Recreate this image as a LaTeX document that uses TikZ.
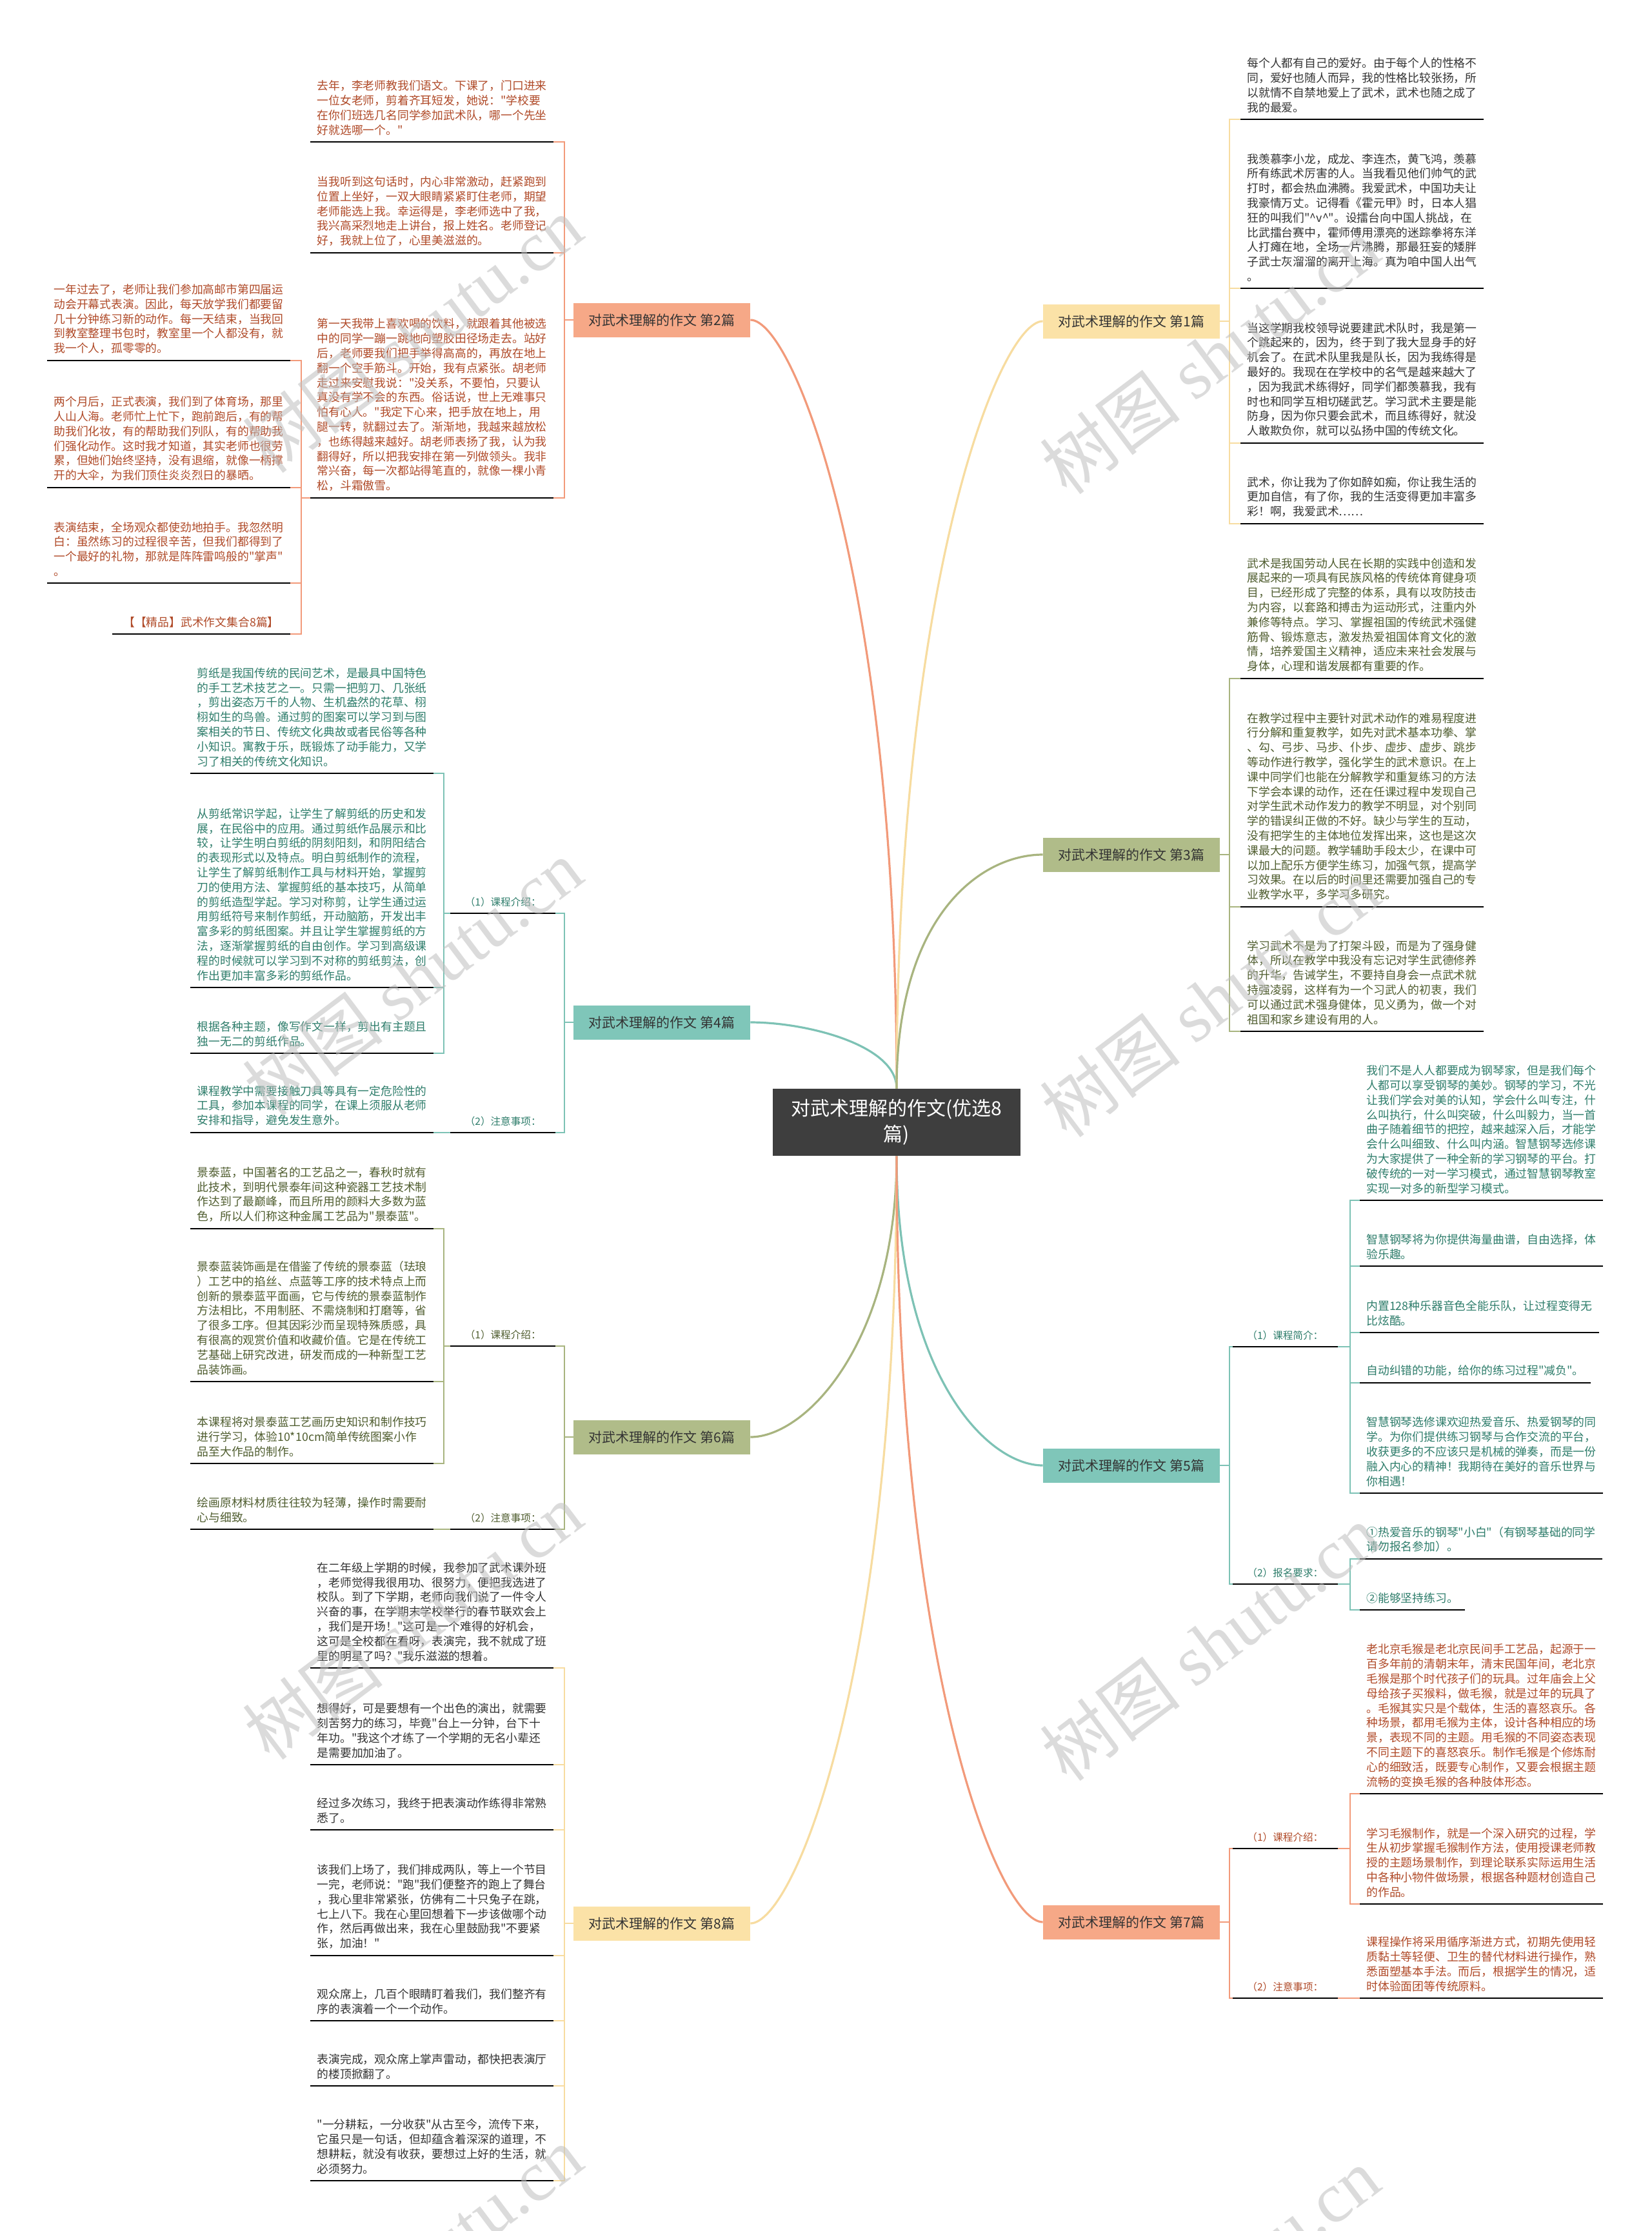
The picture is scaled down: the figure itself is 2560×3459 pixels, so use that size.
\documentclass[tikz,border=0pt]{standalone}
\usepackage{fontspec}
\setmainfont{Noto Sans CJK SC}[Ligatures=TeXOff]
\newfontfamily\wmlatin{Liberation Serif}
\usepackage{xcolor}
\usetikzlibrary{positioning}

\definecolor{salline}{HTML}{F29A7A}
\definecolor{salfill}{HTML}{F6A887}
\definecolor{saltext}{HTML}{B04A28}
\definecolor{tealline}{HTML}{7DC2B5}
\definecolor{tealfill}{HTML}{7FC6B9}
\definecolor{tealtext}{HTML}{2E7D6B}
\definecolor{oliveline}{HTML}{A8B47F}
\definecolor{olivefill}{HTML}{B0BC89}
\definecolor{olivetext}{HTML}{4F5D2F}
\definecolor{yelline}{HTML}{F7DCA0}
\definecolor{yelfill}{HTML}{FBE2A7}
\definecolor{graytext}{HTML}{333333}
\definecolor{ctrfill}{HTML}{3E3E3E}

\begin{document}
\begin{tikzpicture}[x=0.5pt,y=-0.5pt,
    para/.style={align=left,inner xsep=5pt,inner ysep=5pt,text=#1,
      font=\fontsize{8.9pt}{11.4pt}\selectfont},
    tag/.style={inner xsep=11pt,inner ysep=5pt,text=#1,
      font=\fontsize{7.8pt}{9pt}\selectfont},
    bbox/.style={fill=#1,minimum width=137pt,minimum height=26.5pt,inner sep=0pt,
      text=black!80,font=\fontsize{10.5pt}{12pt}\selectfont},
    conn/.style={draw=#1,line width=1.3pt},
    bend/.style={draw=#1,line width=1.6pt},
    uline/.style={draw=black,line width=1.3pt},
    wmark/.style={text=black!25,opacity=0.55,rotate=37,
      font=\fontsize{55pt}{60pt}\selectfont}]
    \useasboundingbox (0,0) rectangle (2560,3459);
    \fill[white] (0,0) rectangle (2560,3459);

    % centre
    \node[fill=ctrfill,text=white,align=center,minimum width=192pt,minimum height=52pt,
      font=\fontsize{15pt}{20pt}\selectfont] (ctr) at (1390,1740)
      {对武术理解的作文(优选8\\篇)};

    % branches
    \node[bbox=salfill] (b2) at (1026,496) {对武术理解的作文 第2篇};
    \node[bbox=tealfill] (b4) at (1026,1585) {对武术理解的作文 第4篇};
    \node[bbox=olivefill] (b6) at (1026,2228) {对武术理解的作文 第6篇};
    \node[bbox=yelfill] (b8) at (1026,2982) {对武术理解的作文 第8篇};
    \node[bbox=yelfill] (b1) at (1754,498) {对武术理解的作文 第1篇};
    \node[bbox=olivefill] (b3) at (1754,1325) {对武术理解的作文 第3篇};
    \node[bbox=tealfill] (b5) at (1754,2272) {对武术理解的作文 第5篇};
    \node[bbox=salfill] (b7) at (1754,2980) {对武术理解的作文 第7篇};

    \draw[bend=salline] (ctr.north) .. controls (1390,900) and (1230,496) .. (b2.east);
    \draw[bend=tealline] (ctr.north) .. controls (1390,1620) and (1250,1585) .. (b4.east);
    \draw[bend=oliveline] (ctr.south) .. controls (1390,2080) and (1250,2228) .. (b6.east);
    \draw[bend=yelline] (ctr.south) .. controls (1390,2600) and (1230,2982) .. (b8.east);
    \draw[bend=yelline] (ctr.north) .. controls (1390,900) and (1550,498) .. (b1.west);
    \draw[bend=oliveline] (ctr.north) .. controls (1390,1420) and (1520,1325) .. (b3.west);
    \draw[bend=tealline] (ctr.south) .. controls (1390,2130) and (1530,2272) .. (b5.west);
    \draw[bend=salline] (ctr.south) .. controls (1390,2600) and (1550,2980) .. (b7.west);

    % branch 2
    \node[para=saltext,anchor=south east] (t2a) at (858,220)
      {去年，李老师教我们语文。下课了，门口进来\\一位女老师，剪着齐耳短发，她说："学校要\\在你们班选几名同学参加武术队，哪一个先坐\\好就选哪一个。"};
    \node[para=saltext,anchor=south east] (t2b) at (858,392)
      {当我听到这句话时，内心非常激动，赶紧跑到\\位置上坐好，一双大眼睛紧紧盯住老师，期望\\老师能选上我。幸运得是，李老师选中了我，\\我兴高采烈地走上讲台，报上姓名。老师登记\\好，我就上位了，心里美滋滋的。};
    \node[para=saltext,anchor=south east] (t2c) at (858,772)
      {第一天我带上喜欢喝的饮料，就跟着其他被选\\中的同学一蹦一跳地向塑胶田径场走去。站好\\后，老师要我们把手举得高高的，再放在地上\\翻一个空手筋斗。开始，我有点紧张。胡老师\\走过来安慰我说："没关系，不要怕，只要认\\真没有学不会的东西。俗话说，世上无难事只\\怕有心人。"我定下心来，把手放在地上，用\\腿一转，就翻过去了。渐渐地，我越来越放松\\，也练得越来越好。胡老师表扬了我，认为我\\翻得好，所以把我安排在第一列做领头。我非\\常兴奋，每一次都站得笔直的，就像一棵小青\\松，斗霜傲雪。};
    \node[para=saltext,anchor=south east] (f1) at (450,559)
      {一年过去了，老师让我们参加高邮市第四届运\\动会开幕式表演。因此，每天放学我们都要留\\几十分钟练习新的动作。每一天结束，当我回\\到教室整理书包时，教室里一个人都没有，就\\我一个人，孤零零的。};
    \node[para=saltext,anchor=south east] (f2) at (450,756)
      {两个月后，正式表演，我们到了体育场，那里\\人山人海。老师忙上忙下，跑前跑后，有的帮\\助我们化妆，有的帮助我们列队，有的帮助我\\们强化动作。这时我才知道，其实老师也很劳\\累，但她们始终坚持，没有退缩，就像一柄撑\\开的大伞，为我们顶住炎炎烈日的暴晒。};
    \node[para=saltext,anchor=south east] (f3) at (450,904)
      {表演结束，全场观众都使劲地拍手。我忽然明\\白：虽然练习的过程很辛苦，但我们都得到了\\一个最好的礼物，那就是阵阵雷鸣般的"掌声"\\。};
    \node[para=saltext,anchor=south east,inner xsep=8.5pt] (f4) at (450,983)
      {【【精品】武术作文集合8篇】};

    \coordinate (h2) at (875,496);
    \coordinate (h2c) at (467,772);
    \draw[conn=salline] (b2.west) -- (h2);
    \foreach \n in {t2a,t2b,t2c}
        \draw[conn=salline] (\n.south east) -| (h2);
    \draw[conn=salline] (t2c.south west) -- (h2c);
    \foreach \n in {f1,f2,f3,f4}
        \draw[conn=salline] (\n.south east) -| (h2c);

    % branch 4
    \node[para=tealtext,anchor=south east] (t4a) at (672,1199)
      {剪纸是我国传统的民间艺术，是最具中国特色\\的手工艺术技艺之一。只需一把剪刀、几张纸\\，剪出姿态万千的人物、生机盎然的花草、栩\\栩如生的鸟兽。通过剪的图案可以学习到与图\\案相关的节日、传统文化典故或者民俗等各种\\小知识。寓教于乐，既锻炼了动手能力，又学\\习了相关的传统文化知识。};
    \node[para=tealtext,anchor=south east] (t4b) at (672,1531)
      {从剪纸常识学起，让学生了解剪纸的历史和发\\展，在民俗中的应用。通过剪纸作品展示和比\\较，让学生明白剪纸的阴刻阳刻，和阴阳结合\\的表现形式以及特点。明白剪纸制作的流程，\\让学生了解剪纸制作工具与材料开始，掌握剪\\刀的使用方法、掌握剪纸的基本技巧，从简单\\的剪纸造型学起。学习对称剪，让学生通过运\\用剪纸符号来制作剪纸，开动脑筋，开发出丰\\富多彩的剪纸图案。并且让学生掌握剪纸的方\\法，逐渐掌握剪纸的自由创作。学习到高级课\\程的时候就可以学习到不对称的剪纸剪法，创\\作出更加丰富多彩的剪纸作品。};
    \node[para=tealtext,anchor=south east] (t4c) at (672,1633)
      {根据各种主题，像写作文一样，剪出有主题且\\独一无二的剪纸作品。};
    \node[para=tealtext,anchor=south east] (t4d) at (672,1756)
      {课程教学中需要接触刀具等具有一定危险性的\\工具，参加本课程的同学，在课上须服从老师\\安排和指导，避免发生意外。};
    \node[tag=tealtext,anchor=south east] (l4a) at (861,1416) {（1）课程介绍：};
    \node[tag=tealtext,anchor=south east] (l4b) at (861,1756) {（2）注意事项：};

    \coordinate (h4) at (875,1585);
    \coordinate (h4a) at (688,1416);
    \draw[conn=tealline] (b4.west) -- (h4);
    \foreach \n in {l4a,l4b}
        \draw[conn=tealline] (\n.south east) -| (h4);
    \draw[conn=tealline] (l4a.south west) -- (h4a);
    \foreach \n in {t4a,t4b,t4c}
        \draw[conn=tealline] (\n.south east) -| (h4a);
    \draw[conn=tealline] (l4b.south west) -- (t4d.south east);

    % branch 6
    \node[para=olivetext,anchor=south east] (t6a) at (672,1905)
      {景泰蓝，中国著名的工艺品之一，春秋时就有\\此技术，到明代景泰年间这种瓷器工艺技术制\\作达到了最巅峰，而且所用的颜料大多数为蓝\\色，所以人们称这种金属工艺品为"景泰蓝"。};
    \node[para=olivetext,anchor=south east] (t6b) at (672,2142)
      {景泰蓝装饰画是在借鉴了传统的景泰蓝（珐琅\\）工艺中的掐丝、点蓝等工序的技术特点上而\\创新的景泰蓝平面画，它与传统的景泰蓝制作\\方法相比，不用制胚、不需烧制和打磨等，省\\了很多工序。但其因彩沙而呈现特殊质感，具\\有很高的观赏价值和收藏价值。它是在传统工\\艺基础上研究改进，研发而成的一种新型工艺\\品装饰画。};
    \node[para=olivetext,anchor=south east] (t6c) at (672,2269)
      {本课程将对景泰蓝工艺画历史知识和制作技巧\\进行学习，体验10*10cm简单传统图案小作\\品至大作品的制作。};
    \node[para=olivetext,anchor=south east] (t6d) at (672,2371)
      {绘画原材料材质往往较为轻薄，操作时需要耐\\心与细致。};
    \node[tag=olivetext,anchor=south east] (l6a) at (861,2087) {（1）课程介绍：};
    \node[tag=olivetext,anchor=south east] (l6b) at (861,2371) {（2）注意事项：};

    \coordinate (h6) at (875,2228);
    \coordinate (h6a) at (688,2087);
    \draw[conn=oliveline] (b6.west) -- (h6);
    \foreach \n in {l6a,l6b}
        \draw[conn=oliveline] (\n.south east) -| (h6);
    \draw[conn=oliveline] (l6a.south west) -- (h6a);
    \foreach \n in {t6a,t6b,t6c}
        \draw[conn=oliveline] (\n.south east) -| (h6a);
    \draw[conn=oliveline] (l6b.south west) -- (t6d.south east);

    % branch 8
    \node[para=graytext,anchor=south east] (t8a) at (858,2586)
      {在二年级上学期的时候，我参加了武术课外班\\，老师觉得我很用功、很努力，便把我选进了\\校队。到了下学期，老师向我们说了一件令人\\兴奋的事，在学期末学校举行的春节联欢会上\\，我们是开场！"这可是一个难得的好机会，\\这可是全校都在看呀，表演完，我不就成了班\\里的明星了吗？"我乐滋滋的想着。};
    \node[para=graytext,anchor=south east] (t8b) at (858,2736)
      {想得好，可是要想有一个出色的演出，就需要\\刻苦努力的练习，毕竟"台上一分钟，台下十\\年功。"我这个才练了一个学期的无名小辈还\\是需要加加油了。};
    \node[para=graytext,anchor=south east] (t8c) at (858,2837)
      {经过多次练习，我终于把表演动作练得非常熟\\悉了。};
    \node[para=graytext,anchor=south east] (t8d) at (858,3032)
      {该我们上场了，我们排成两队，等上一个节目\\一完，老师说："跑"我们便整齐的跑上了舞台\\，我心里非常紧张，仿佛有二十只兔子在跳，\\七上八下。我在心里回想着下一步该做哪个动\\作，然后再做出来，我在心里鼓励我"不要紧\\张，加油！"};
    \node[para=graytext,anchor=south east] (t8e) at (858,3133)
      {观众席上，几百个眼睛盯着我们，我们整齐有\\序的表演着一个一个动作。};
    \node[para=graytext,anchor=south east] (t8f) at (858,3234)
      {表演完成，观众席上掌声雷动，都快把表演厅\\的楼顶掀翻了。};
    \node[para=graytext,anchor=south east] (t8g) at (858,3381)
      {"一分耕耘，一分收获"从古至今，流传下来，\\它虽只是一句话，但却蕴含着深深的道理，不\\想耕耘，就没有收获，要想过上好的生活，就\\必须努力。};

    \coordinate (h8) at (875,2982);
    \draw[conn=yelline] (b8.west) -- (h8);
    \foreach \n in {t8a,t8b,t8c,t8d,t8e,t8f,t8g}
        \draw[conn=yelline] (\n.south east) -| (h8);

    % branch 1
    \node[para=graytext,anchor=south west] (t1a) at (1923,185)
      {每个人都有自己的爱好。由于每个人的性格不\\同，爱好也随人而异，我的性格比较张扬，所\\以就情不自禁地爱上了武术，武术也随之成了\\我的最爱。};
    \node[para=graytext,anchor=south west] (t1b) at (1923,447)
      {我羡慕李小龙，成龙、李连杰，黄飞鸿，羡慕\\所有练武术厉害的人。当我看见他们帅气的武\\打时，都会热血沸腾。我爱武术，中国功夫让\\我豪情万丈。记得看《霍元甲》时，日本人猖\\狂的叫我们"\textasciicircum{}v\textasciicircum{}"。设擂台向中国人挑战，在\\比武擂台赛中，霍师傅用漂亮的迷踪拳将东洋\\人打瘫在地，全场一片沸腾，那最狂妄的矮胖\\子武士灰溜溜的离开上海。真为咱中国人出气\\。};
    \node[para=graytext,anchor=south west] (t1c) at (1923,687)
      {当这学期我校领导说要建武术队时，我是第一\\个跳起来的，因为，终于到了我大显身手的好\\机会了。在武术队里我是队长，因为我练得是\\最好的。我现在在学校中的名气是越来越大了\\，因为我武术练得好，同学们都羡慕我，我有\\时也和同学互相切磋武艺。学习武术主要是能\\防身，因为你只要会武术，而且练得好，就没\\人敢欺负你，就可以弘扬中国的传统文化。};
    \node[para=graytext,anchor=south west] (t1d) at (1923,812)
      {武术，你让我为了你如醉如痴，你让我生活的\\更加自信，有了你，我的生活变得更加丰富多\\彩！啊，我爱武术……};

    \coordinate (h1) at (1906,498);
    \draw[conn=yelline] (b1.east) -- (h1);
    \foreach \n in {t1a,t1b,t1c,t1d}
        \draw[conn=yelline] (\n.south west) -| (h1);

    % branch 3
    \node[para=olivetext,anchor=south west] (t3a) at (1923,1052)
      {武术是我国劳动人民在长期的实践中创造和发\\展起来的一项具有民族风格的传统体育健身项\\目，已经形成了完整的体系，具有以攻防技击\\为内容，以套路和搏击为运动形式，注重内外\\兼修等特点。学习、掌握祖国的传统武术强健\\筋骨、锻炼意志，激发热爱祖国体育文化的激\\情，培养爱国主义精神，适应未来社会发展与\\身体，心理和谐发展都有重要的作。};
    \node[para=olivetext,anchor=south west] (t3b) at (1923,1406)
      {在教学过程中主要针对武术动作的难易程度进\\行分解和重复教学，如先对武术基本功拳、掌\\、勾、弓步、马步、仆步、虚步、虚步、跳步\\等动作进行教学，强化学生的武术意识。在上\\课中同学们也能在分解教学和重复练习的方法\\下学会本课的动作，还在任课过程中发现自己\\对学生武术动作发力的教学不明显，对个别同\\学的错误纠正做的不好。缺少与学生的互动，\\没有把学生的主体地位发挥出来，这也是这次\\课最大的问题。教学辅助手段太少，在课中可\\以加上配乐方便学生练习，加强气氛，提高学\\习效果。在以后的时间里还需要加强自己的专\\业教学水平，多学习多研究。};
    \node[para=olivetext,anchor=south west] (t3c) at (1923,1599)
      {学习武术不是为了打架斗殴，而是为了强身健\\体，所以在教学中我没有忘记对学生武德修养\\的升华，告诫学生，不要持自身会一点武术就\\持强凌弱，这样有为一个习武人的初衷，我们\\可以通过武术强身健体，见义勇为，做一个对\\祖国和家乡建设有用的人。};

    \coordinate (h3) at (1906,1325);
    \draw[conn=oliveline] (b3.east) -- (h3);
    \foreach \n in {t3a,t3b,t3c}
        \draw[conn=oliveline] (\n.south west) -| (h3);

    % branch 5
    \node[para=tealtext,anchor=south west] (t5a) at (2108,1861)
      {我们不是人人都要成为钢琴家，但是我们每个\\人都可以享受钢琴的美妙。钢琴的学习，不光\\让我们学会对美的认知，学会什么叫专注，什\\么叫执行，什么叫突破，什么叫毅力，当一首\\曲子随着细节的把控，越来越深入后，才能学\\会什么叫细致、什么叫内涵。智慧钢琴选修课\\为大家提供了一种全新的学习钢琴的平台。打\\破传统的一对一学习模式，通过智慧钢琴教室\\实现一对多的新型学习模式。};
    \node[para=tealtext,anchor=south west] (t5b) at (2108,1963)
      {智慧钢琴将为你提供海量曲谱，自由选择，体\\验乐趣。};
    \node[para=tealtext,anchor=south west] (t5c) at (2108,2066)
      {内置128种乐器音色全能乐队，让过程变得无\\比炫酷。};
    \node[para=tealtext,anchor=south west] (t5d) at (2108,2144)
      {自动纠错的功能，给你的练习过程"减负"。};
    \node[para=tealtext,anchor=south west] (t5e) at (2108,2315)
      {智慧钢琴选修课欢迎热爱音乐、热爱钢琴的同\\学。为你们提供练习钢琴与合作交流的平台，\\收获更多的不应该只是机械的弹奏，而是一份\\融入内心的精神！我期待在美好的音乐世界与\\你相遇！};
    \node[para=tealtext,anchor=south west] (t5f) at (2108,2417)
      {①热爱音乐的钢琴"小白"（有钢琴基础的同学\\请勿报名参加）。};
    \node[para=tealtext,anchor=south west] (t5g) at (2108,2496)
      {②能够坚持练习。};
    \node[tag=tealtext,anchor=south west] (l5a) at (1911,2088) {（1）课程简介：};
    \node[tag=tealtext,anchor=south west] (l5b) at (1911,2456) {（2）报名要求：};

    \coordinate (h5) at (1906,2272);
    \coordinate (h5a) at (2093,2088);
    \coordinate (h5b) at (2093,2456);
    \draw[conn=tealline] (b5.east) -- (h5);
    \foreach \n in {l5a,l5b}
        \draw[conn=tealline] (\n.south west) -| (h5);
    \draw[conn=tealline] (l5a.south east) -- (h5a);
    \draw[conn=tealline] (l5b.south east) -- (h5b);
    \foreach \n in {t5a,t5b,t5c,t5d,t5e}
        \draw[conn=tealline] (\n.south west) -| (h5a);
    \foreach \n in {t5f,t5g}
        \draw[conn=tealline] (\n.south west) -| (h5b);

    % branch 7
    \node[para=saltext,anchor=south west] (t7a) at (2108,2781)
      {老北京毛猴是老北京民间手工艺品，起源于一\\百多年前的清朝末年，清末民国年间，老北京\\毛猴是那个时代孩子们的玩具。过年庙会上父\\母给孩子买猴料，做毛猴，就是过年的玩具了\\。毛猴其实只是个载体，生活的喜怒哀乐。各\\种场景，都用毛猴为主体，设计各种相应的场\\景，表现不同的主题。用毛猴的不同姿态表现\\不同主题下的喜怒哀乐。制作毛猴是个修炼耐\\心的细致活，既要专心制作，又要会根据主题\\流畅的变换毛猴的各种肢体形态。};
    \node[para=saltext,anchor=south west] (t7b) at (2108,2952)
      {学习毛猴制作，就是一个深入研究的过程，学\\生从初步掌握毛猴制作方法，使用授课老师教\\授的主题场景制作，到理论联系实际运用生活\\中各种小物件做场景，根据各种题材创造自己\\的作品。};
    \node[para=saltext,anchor=south west] (t7c) at (2108,3098)
      {课程操作将采用循序渐进方式，初期先使用轻\\质黏土等轻便、卫生的替代材料进行操作，熟\\悉面塑基本手法。而后，根据学生的情况，适\\时体验面团等传统原料。};
    \node[tag=saltext,anchor=south west] (l7a) at (1911,2866) {（1）课程介绍：};
    \node[tag=saltext,anchor=south west] (l7b) at (1911,3098) {（2）注意事项：};

    \coordinate (h7) at (1906,2980);
    \coordinate (h7a) at (2093,2866);
    \draw[conn=salline] (b7.east) -- (h7);
    \foreach \n in {l7a,l7b}
        \draw[conn=salline] (\n.south west) -| (h7);
    \draw[conn=salline] (l7a.south east) -- (h7a);
    \foreach \n in {t7a,t7b}
        \draw[conn=salline] (\n.south west) -| (h7a);
    \draw[conn=salline] (l7b.south east) -- (t7c.south west);

    % underlines
    \foreach \n in {t2a,t2b,t2c,f1,f2,f3,f4,t4a,t4b,t4c,t4d,l4a,l4b,
        t6a,t6b,t6c,t6d,l6a,l6b,t8a,t8b,t8c,t8d,t8e,t8f,t8g,
        t1a,t1b,t1c,t1d,t3a,t3b,t3c,t5a,t5b,t5c,t5d,t5e,t5f,t5g,l5a,l5b,
        t7a,t7b,t7c,l7a,l7b}
        \draw[uline] (\n.south west) -- (\n.south east);

    % watermarks
    \node[wmark] (wm1) at (640,519) {树图 {\wmlatin shutu.cn}};
    \node[wmark] (wm2) at (1876,552) {树图 {\wmlatin shutu.cn}};
    \node[wmark] (wm3) at (640,1516) {树图 {\wmlatin shutu.cn}};
    \node[wmark] (wm4) at (1876,1549) {树图 {\wmlatin shutu.cn}};
    \node[wmark] (wm5) at (640,2514) {树图 {\wmlatin shutu.cn}};
    \node[wmark] (wm6) at (1876,2547) {树图 {\wmlatin shutu.cn}};
    \node[wmark] (wm7) at (640,3511) {树图 {\wmlatin shutu.cn}};
    \node[wmark] (wm8) at (1876,3544) {树图 {\wmlatin shutu.cn}};
\end{tikzpicture}
\end{document}
